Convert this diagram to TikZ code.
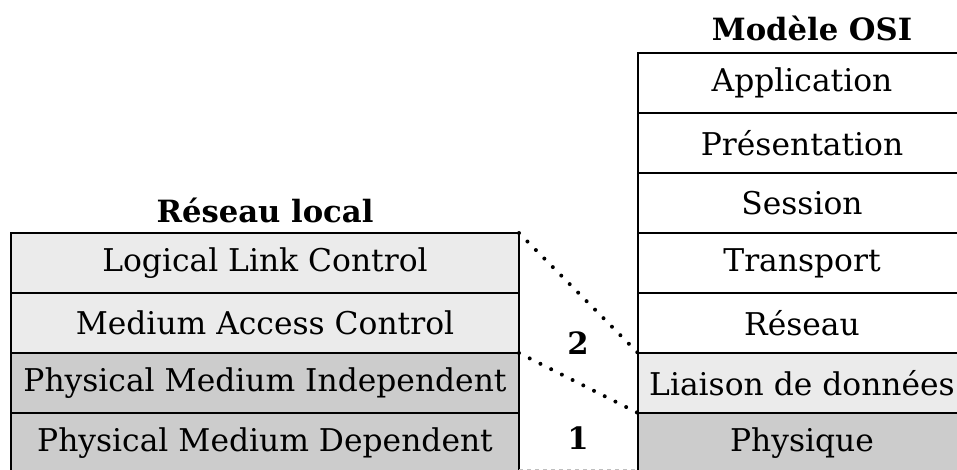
\documentclass[tikz,border=0pt]{standalone}
\usepackage{fontspec}
\setmainfont{DejaVu Serif}
\usetikzlibrary{positioning}
\definecolor{lightfill}{HTML}{EBEBEB}
\definecolor{darkfill}{HTML}{CCCCCC}

\begin{document}
\begin{tikzpicture}[x=0.75pt,y=-0.75pt,
    layer/.style={draw,line width=2pt,outer sep=0pt,inner sep=0pt,minimum height=45pt,font=\fontsize{23.5}{28}\selectfont},
    lanlayer/.style={layer,minimum width=381pt},
    osilayer/.style={layer,minimum width=246pt},
    title/.style={font=\bfseries\fontsize{23}{28}\selectfont},
    link/.style={line width=3pt,line cap=round,dash pattern=on 0pt off 9pt}]

\useasboundingbox (0,0) rectangle (957,470);

%the local network stack
    \node[lanlayer,fill=lightfill,anchor=north west] (llc) at (11,233) {Logical Link Control};
    \node[lanlayer,fill=lightfill,below=0pt of llc] (mac) {Medium Access Control};
    \node[lanlayer,fill=darkfill,below=0pt of mac] (pmi) {Physical Medium Independent};
    \node[lanlayer,fill=darkfill,below=0pt of pmi] (pmd) {Physical Medium Dependent};
    \node[title,above=4pt of llc] (lantitle) {Réseau local};

%the OSI stack
    \node[osilayer,anchor=north west] (app) at (638,53) {Application};
    \node[osilayer,below=0pt of app] (pres) {Présentation};
    \node[osilayer,below=0pt of pres] (sess) {Session};
    \node[osilayer,below=0pt of sess] (trans) {Transport};
    \node[osilayer,below=0pt of trans] (res) {Réseau};
    \node[osilayer,fill=lightfill,below=0pt of res] (liaison) {Liaison de données};
    \node[osilayer,fill=darkfill,below=0pt of liaison] (phys) {Physique};
    \node[title] (osititle) at (812,28) {Modèle OSI};

% the correspondence
    \draw[link] (llc.north east) -- (liaison.north west);
    \draw[link] (pmi.north east) -- (phys.north west);
    \draw[gray!50,line width=1.6pt,dashed] ([yshift=2pt]pmd.south east) -- ([yshift=2pt]phys.south west);
    \node[title] (two) at (578,343) {2};
    \node[title] (one) at (578,438) {1};
\end{tikzpicture}
\end{document}
